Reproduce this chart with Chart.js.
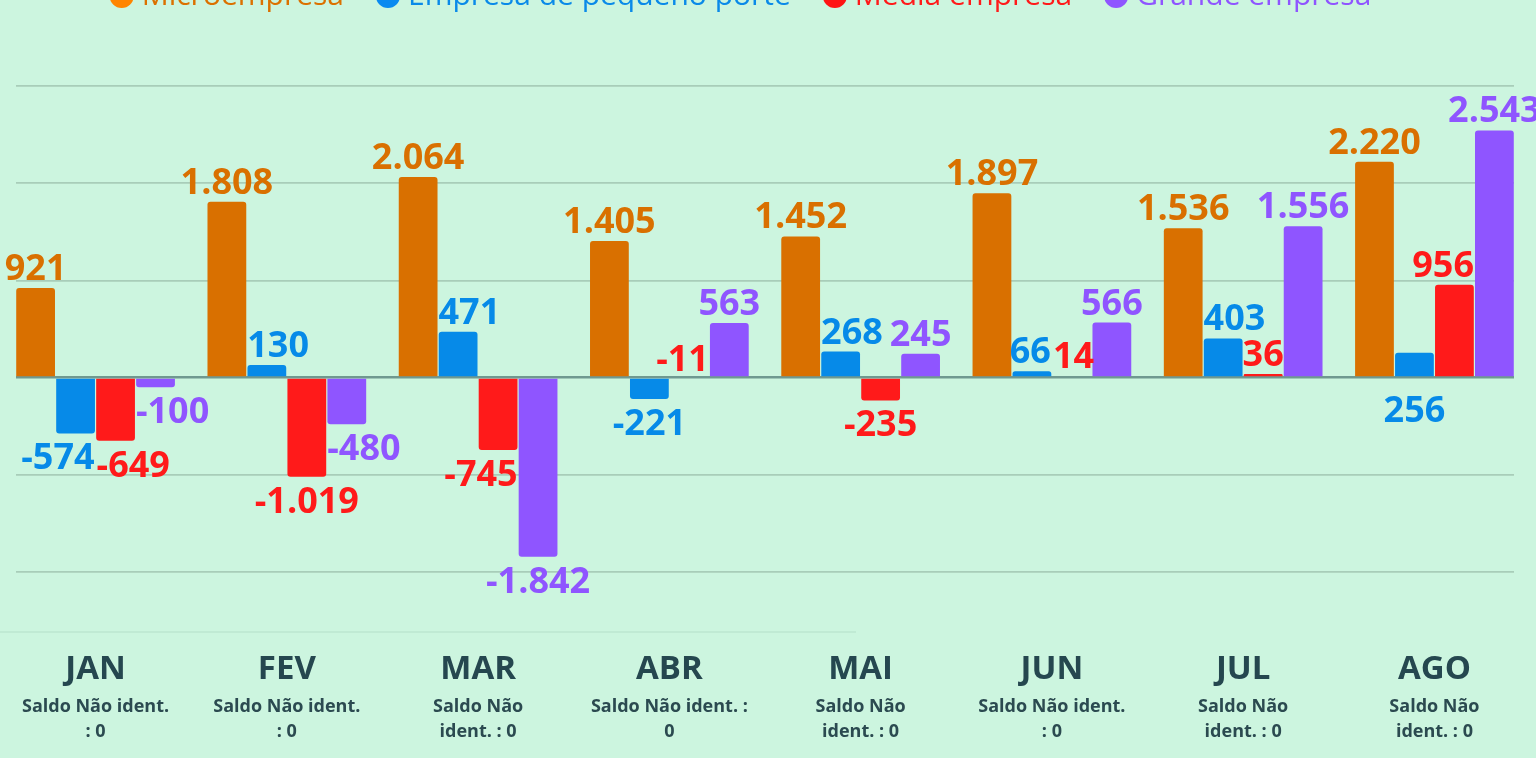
<!DOCTYPE html>
<html lang="pt-BR">
<head>
<meta charset="utf-8">
<title>Saldo por porte de empresa</title>
<script src="https://cdn.jsdelivr.net/npm/chart.js@4.4.1/dist/chart.umd.min.js"></script>
<style>
  html, body { margin: 0; padding: 0; background: #ccf5df; overflow: hidden; }
  #wrap { position: absolute; left: 0; top: -58px; width: 1536px; height: 830px; }
  #rule { position: absolute; left: 0; top: 631px; width: 856px; height: 2px; background: #c0ead4; }
  .saldo { position: absolute; top: 692.5px; transform: translateX(-50%); text-align: center; white-space: nowrap;
           font: bold 18px/25px "Open Sans"; color: #2b4a50; }
</style>
</head>
<body>
<div id="rule"></div>
<div id="wrap"><canvas id="saldoChart"></canvas></div>
<div id="saldoBox"></div>
<script>
// data
const meses = ['JAN', 'FEV', 'MAR', 'ABR', 'MAI', 'JUN', 'JUL', 'AGO'];
const naoIdent = [
    ['Saldo Não ident.', ': 0'],
    ['Saldo Não ident.', ': 0'],
    ['Saldo Não', 'ident. : 0'],
    ['Saldo Não ident. :', '0'],
    ['Saldo Não', 'ident. : 0'],
    ['Saldo Não ident.', ': 0'],
    ['Saldo Não', 'ident. : 0'],
    ['Saldo Não', 'ident. : 0']
];
const nomes = ['Microempresa', 'Empresa de pequeno porte', 'Média empresa', 'Grande empresa'];
const micro = [921, 1808, 2064, 1405, 1452, 1897, 1536, 2220];
const pequeno = [-574, 130, 471, -221, 268, 66, 403, 256];
const media = [-649, -1019, -745, -11, -235, 14, 36, 956];
const grande = [-100, -480, -1842, 563, 245, 566, 1556, 2543];

const barColors = ['#d97000', '#068ae8', '#ff1a1a', '#8f55ff'];
const dotColors = ['#ff8500', '#0a8af0', '#ff1414', '#8f55ff'];
const legendText = ['#db7100', '#0a8ae8', '#ff1a1a', '#8f55ff'];

const XMIN = -0.416;
const XMAX = meses.length - 1 + 0.416;
const LEGEND_H = 144;
const LEGEND_SHIFT = -21;

function fmt(v) {
    let s = String(Math.abs(v)).replace(/\B(?=(\d{3})+(?!\d))/g, '.');
    return (v < 0 ? '-' : '') + s;
}

// legend takes the whole band above the plot
const legendSpace = {
    id: 'legendSpace',
    beforeLayout(chart) {
        let lg = chart.legend;
        if (lg && !lg._patched) {
            let fit = lg.fit;
            lg.fit = function() {
                fit.call(this);
                this.height = LEGEND_H;
            };
            lg._patched = true;
        }
    },
    afterLayout(chart) {
        chart.legend.left += LEGEND_SHIFT;
        chart.legend.right += LEGEND_SHIFT;
    }
};

// value labels at the end of each bar, nudged off neighbouring bars
const valueLabels = {
    id: 'valueLabels',
    afterDatasetsDraw(chart) {
        let ctx = chart.ctx;
        ctx.save();
        ctx.font = 'bold 36px "Open Sans"';
        ctx.textAlign = 'center';
        ctx.textBaseline = 'alphabetic';
        let capH = 26;
        let bars = [];
        let items = [];
        chart.data.datasets.forEach((ds, di) => {
            chart.getDatasetMeta(di).data.forEach((bar, i) => {
                let t = Math.min(bar.y, bar.base), b = Math.max(bar.y, bar.base);
                bars.push({i: i, di: di, l: bar.x - bar.width / 2, r: bar.x + bar.width / 2, t: t, b: b});
                let v = ds.data[i].y;
                let text = fmt(v);
                items.push({i: i, di: di, text: text, color: barColors[di], cx: bar.x, x: bar.x,
                    w: ctx.measureText(text).width, edgeUp: t, edgeDown: b,
                    up: v >= 0 || b - t < 4});
            });
        });
        let hits = it => bars.filter(b => b.i === it.i && b.di !== it.di &&
            b.l < it.x + it.w / 2 && b.r > it.x - it.w / 2 && b.t < it.baseline && b.b > it.top);
        let place = (it, up) => {
            let gap = up === it.up ? 0 : 10;
            it.x = it.cx;
            it.baseline = up ? it.edgeUp - 8 - gap : it.edgeDown + 10 + gap + capH;
            it.top = it.baseline - capH;
            hits(it).forEach(b => {
                if ((b.l + b.r) / 2 < it.cx) it.x = Math.max(it.x, b.r + 1 + it.w / 2);
                else it.x = Math.min(it.x, b.l - 1 - it.w / 2);
            });
            return hits(it).length === 0;
        };
        items.forEach(it => {
            if (!place(it, it.up) && !place(it, !it.up)) place(it, it.up);
        });
        // push apart labels of the same month that overlap
        for (let pass = 0; pass < 4; pass++) {
            for (let a = 0; a < items.length; a++) {
                for (let b = 0; b < items.length; b++) {
                    let p = items[a], q = items[b];
                    if (a === b || p.i !== q.i || p.x > q.x) continue;
                    if (p.top >= q.baseline || q.top >= p.baseline) continue;
                    let overlap = (p.x + p.w / 2) - (q.x - q.w / 2);
                    if (overlap > -2) {
                        p.x -= overlap / 2 + 1;
                        q.x += overlap / 2 + 1;
                    }
                }
            }
        }
        items.forEach(it => {
            ctx.fillStyle = it.color;
            ctx.fillText(it.text, it.x, it.baseline);
        });
        ctx.restore();
    }
};

function serie(values, i) {
    return {
        label: nomes[i],
        data: values.map((y, x) => ({x: x, y: y})),
        backgroundColor: barColors[i],
        borderRadius: 3,
        categoryPercentage: 0.836,
        barPercentage: 0.97
    };
}

let ctx = document.getElementById('saldoChart').getContext('2d');
let chart = new Chart(ctx, {
    type: 'bar',
    data: {
        datasets: [serie(micro, 0), serie(pequeno, 1), serie(media, 2), serie(grande, 3)]
    },
    options: {
        responsive: true,
        maintainAspectRatio: false,
        animation: false,
        layout: {padding: {left: 16, right: 22, top: 0, bottom: 5}},
        scales: {
            x: {
                type: 'linear',
                offset: false,
                min: XMIN,
                max: XMAX,
                afterBuildTicks: s => { s.ticks = meses.map((m, i) => ({value: i})); },
                grid: {display: false, drawTicks: false},
                border: {display: false},
                ticks: {
                    autoSkip: false,
                    maxRotation: 0,
                    padding: 0,
                    color: '#25474f',
                    // tall line box puts the month name ~95px below the plot
                    font: {family: '"Open Sans"', size: 33, weight: 'bold', lineHeight: '195px'},
                    callback: v => meses[v]
                }
            },
            y: {
                min: -2000,
                max: 3000,
                border: {display: false},
                ticks: {display: false, stepSize: 1000},
                grid: {
                    drawTicks: false,
                    color: c => c.tick.value === 0 ? '#6f9990' : '#a8cdb9',
                    lineWidth: c => c.tick.value === 0 ? 2.5 : 1.8
                }
            }
        },
        plugins: {
            tooltip: {enabled: false},
            legend: {
                position: 'top',
                labels: {
                    usePointStyle: true,
                    boxWidth: 10,
                    boxHeight: 17,
                    padding: 39,
                    font: {family: '"Open Sans"', size: 30, weight: 'normal'},
                    generateLabels: chart => chart.data.datasets.map((ds, i) => ({
                        text: ds.label,
                        fillStyle: dotColors[i],
                        strokeStyle: dotColors[i],
                        lineWidth: 0,
                        fontColor: legendText[i],
                        pointStyle: 'circle',
                        datasetIndex: i,
                        hidden: false
                    }))
                }
            }
        }
    },
    plugins: [legendSpace, valueLabels]
});

// "Saldo Não ident." notes under each month, placed on the x scale
let saldoBox = document.getElementById('saldoBox');
naoIdent.forEach((lines, i) => {
    let d = document.createElement('div');
    d.className = 'saldo';
    d.innerHTML = lines.join('<br>');
    d.style.left = chart.scales.x.getPixelForValue(i) + 'px';
    saldoBox.appendChild(d);
});
</script>
</body>
</html>
